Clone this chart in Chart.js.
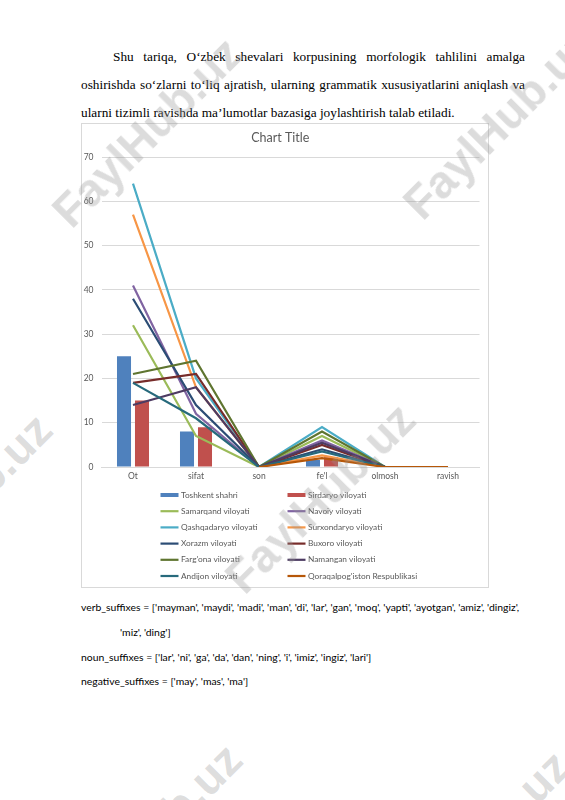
<!DOCTYPE html>
<html><head><meta charset="utf-8">
<script src="https://cdn.jsdelivr.net/npm/chart.js@4.4.0/dist/chart.umd.min.js"></script>
<style>
html,body{margin:0;padding:0;background:#fff;}
body{width:565px;height:800px;position:relative;overflow:hidden;}
.pl{position:absolute;left:81px;width:444px;font-family:"Liberation Serif","Times New Roman",serif;font-size:13.3px;line-height:28px;height:28px;color:#000;white-space:nowrap;}
.pl.j{text-align:justify;text-align-last:justify;white-space:normal;}
#box{position:absolute;left:81px;top:123px;width:408px;height:465px;box-sizing:border-box;border:1px solid #d9d9d9;background:#fff;}
#c{position:absolute;left:81px;top:123px;}
.code{position:absolute;left:81px;font-family:Lato,"Open Sans",sans-serif;font-size:10.4px;line-height:24px;color:#000;white-space:pre;}
.wm{position:absolute;font-family:"Liberation Sans",Arial,sans-serif;font-weight:bold;font-size:46px;color:rgba(150,150,150,0.33);transform:translate(-50%,-50%) rotate(-45deg);white-space:nowrap;pointer-events:none;}
</style></head>
<body>
<div class="pl j" style="top:43px;text-indent:32px;">Shu tariqa, O‘zbek shevalari korpusining morfologik tahlilini amalga</div>
<div class="pl j" style="top:71px;">oshirishda so‘zlarni to‘liq ajratish, ularning grammatik xususiyatlarini aniqlash va</div>
<div class="pl" style="top:99px;">ularni tizimli ravishda ma’lumotlar bazasiga joylashtirish talab etiladi.</div>
<div id="box"></div>
<canvas id="c" width="408" height="465"></canvas>
<div class="code" style="top:595px;">verb_suffixes = ['mayman', 'maydi', 'madi', 'man', 'di', 'lar', 'gan', 'moq', 'yapti', 'ayotgan', 'amiz', 'dingiz',</div>
<div class="code" style="top:620px;left:120px;">'miz', 'ding']</div>
<div class="code" style="top:645px;">noun_suffixes = ['lar', 'ni', 'ga', 'da', 'dan', 'ning', 'i', 'imiz', 'ingiz', 'lari']</div>
<div class="code" style="top:669px;">negative_suffixes = ['may', 'mas', 'ma']</div>
<div class="wm" style="left:147px;top:132px;">FaylHub.uz</div>
<div class="wm" style="left:498px;top:124px;">FaylHub.uz</div>
<div class="wm" style="left:-43px;top:508px;">FaylHub.uz</div>
<div class="wm" style="left:320px;top:498px;">FaylHub.uz</div>
<div class="wm" style="left:147px;top:838px;">FaylHub.uz</div>
<div class="wm" style="left:475px;top:845px;">FaylHub.uz</div>
<script>
// ---- data ----
const categories = ['Ot', 'sifat', 'son', "fe'l", 'olmosh', 'ravish'];
const seriesNames = ['Toshkent shahri', 'Sirdaryo viloyati', 'Samarqand viloyati', 'Navoiy viloyati',
  'Qashqadaryo viloyati', 'Surxondaryo viloyati', 'Xorazm viloyati', 'Buxoro viloyati',
  "Farg'ona viloyati", 'Namangan viloyati', 'Andijon viloyati', "Qoraqalpog'iston Respublikasi"];
const toshkent    = [25, 8, 0, 1.6, 0, 0];
const sirdaryo    = [15, 9, 0, 2.2, 0, 0];
const samarqand   = [32, 7, 0, 7, 0, 0];
const navoiy      = [41, 12, 0, 6, 0, 0];
const qashqadaryo = [64, 20, 0, 9, 0, 0];
const surxondaryo = [57, 18, 0, 2.6, 0, 0];
const xorazm      = [38, 14, 0, 4, 0, 0];
const buxoro      = [19, 21, 0, 5, 0, 0];
const fargona     = [21, 24, 0, 8, 0, 0];
const namangan    = [14, 18, 0, 5.5, 0, 0];
const andijon     = [19, 11, 0, 3.5, 0, 0];
const qoraqalpoq  = [null, null, 0, 2, 0, 0];
const yTicks = [0, 10, 20, 30, 40, 50, 60, 70];

const seriesValues = [toshkent, sirdaryo, samarqand, navoiy, qashqadaryo, surxondaryo,
  xorazm, buxoro, fargona, namangan, andijon, qoraqalpoq];
const seriesColors = ['#4F81BD', '#C0504D', '#9BBB59', '#8064A2', '#4BACC6', '#F79646',
  '#2C4D75', '#772C2A', '#5F7530', '#4D3B62', '#276A7C', '#B65708'];

const datasets = seriesValues.map((vals, i) => {
  if (i < 2) {
    return {type: 'bar', label: seriesNames[i], data: vals, backgroundColor: seriesColors[i],
      order: 100, categoryPercentage: 0.571, barPercentage: 0.78};
  }
  return {type: 'line', label: seriesNames[i], data: vals, borderColor: seriesColors[i],
    backgroundColor: seriesColors[i], borderWidth: 2.2, pointRadius: 0, fill: false,
    tension: 0, spanGaps: false, order: 100 - i};
});

const legendPlugin = {
  id: 'xlLegend',
  afterDraw(chart) {
    const c = chart.ctx;
    const colX = [79.5, 206.5];
    const y0 = 372, dy = 16.2;
    c.save();
    c.font = '8.3px Lato';
    c.textBaseline = 'middle';
    chart.data.datasets.forEach((d, i) => {
      const x = colX[i % 2], y = y0 + Math.floor(i / 2) * dy;
      if (d.type === 'bar') {
        c.fillStyle = d.backgroundColor;
        c.fillRect(x, y - 2, 18, 4);
      } else {
        c.strokeStyle = d.borderColor;
        c.lineWidth = 2.2;
        c.beginPath(); c.moveTo(x, y); c.lineTo(x + 18, y); c.stroke();
      }
      c.fillStyle = '#595959';
      c.fillText(d.label, x + 20.5, y);
    });
    c.restore();
  }
};

new Chart(document.getElementById('c'), {
  type: 'bar',
  data: {labels: categories, datasets: datasets},
  options: {
    responsive: false, animation: false, devicePixelRatio: 1,
    layout: {padding: {left: 0, right: 9.5, top: 0, bottom: 101}},
    plugins: {
      legend: {display: false},
      tooltip: {enabled: false},
      title: {display: true, text: 'Chart Title', color: '#595959',
        font: {family: 'Lato', size: 12.5, weight: 'normal'}, padding: {top: 7.5, bottom: 11.5}}
    },
    scales: {
      x: {
        grid: {display: false, drawTicks: false},
        border: {display: true, color: '#d9d9d9', width: 1},
        ticks: {color: '#595959', font: {family: 'Lato', size: 8.5}, padding: 4, maxRotation: 0, autoSkip: false},
        afterFit: s => { s.height = 20; }
      },
      y: {
        min: 0, max: 70,
        afterBuildTicks: s => { s.ticks = yTicks.map(v => ({value: v})); },
        ticks: {color: '#595959', font: {family: 'Lato', size: 8.5}, padding: 8},
        grid: {color: '#d9d9d9', drawTicks: false},
        border: {display: false},
        afterFit: s => { s.width = 20.5; }
      }
    }
  },
  plugins: [legendPlugin]
});
</script>
</body></html>
